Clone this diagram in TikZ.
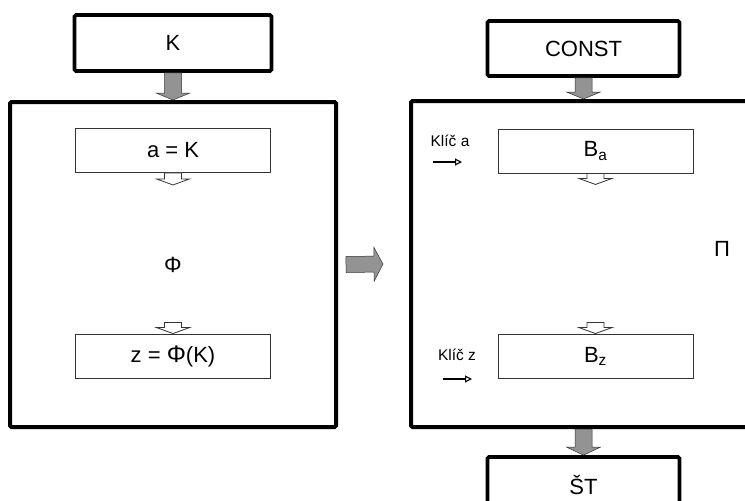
\documentclass[tikz,border=0pt]{standalone}
\usepackage{fontspec}
\setmainfont{Liberation Sans}
\usetikzlibrary{arrows.meta,positioning,calc}

% block arrow: style, from, to, half shaft, half head, head length
\newcommand{\fatarrow}[6]{%
  \coordinate (fa-h) at ($#3!#6!#2$);
  \draw[#1] ($#2!#4!90:#3$) -- ($(fa-h)!#4!90:#3$) -- ($(fa-h)!#5!90:#3$) -- #3
    -- ($(fa-h)!#5!-90:#3$) -- ($(fa-h)!#4!-90:#3$) -- ($#2!#4!-90:#3$) -- cycle;}

\begin{document}
\begin{tikzpicture}[x=1pt, y=-1pt, on grid,
  font=\fontsize{22}{26}\selectfont,
  bigbox/.style={draw, line width=4pt, rounded corners=1.5pt, inner sep=0pt},
  thickbox/.style={draw, line width=3.8pt, rounded corners=1.5pt, inner sep=0pt,
    minimum width=197pt, minimum height=56pt},
  thinbox/.style={draw=black!80, line width=0.9pt, inner sep=0pt,
    minimum width=195pt, minimum height=44pt},
  grayarrow/.style={fill=gray!85, draw=gray!40!black, line width=0.5pt},
  openarrow/.style={fill=white, draw=black!80, line width=0.8pt},
  keyarrow/.style={-{Triangle[open,length=7pt,width=7pt]}, line width=1.1pt},
  keylabel/.style={font=\fontsize{15.5}{18}\selectfont}]

  \clip (0,0) rectangle (745,501);

  % left part
  \node[bigbox, minimum width=326pt, minimum height=325pt] (phibox) at (173,264.5) {};
  \node[thickbox, above=221.5pt of phibox] (K) {K};
  \node[thinbox, above=114pt of phibox] (ak) {a = K};
  \node[thinbox, below=91.5pt of phibox] (zk) {z = {\fontsize{24}{26}\selectfont Φ}(K)};
  \node (phi) at (phibox) {Φ};

  % right part
  \node[bigbox, minimum width=349pt, minimum height=326pt] (pibox) at (585.5,264) {};
  \node[thickbox, minimum width=192pt, minimum height=55pt] (const) at (583.5,48.5) {CONST};
  \node[thinbox] (ba) at (595.5,151) {B\textsubscript{a}};
  \node[thinbox, below=205pt of ba] (bz) {B\textsubscript{z}};
  \node[thickbox, minimum width=192pt, minimum height=55pt, below=436pt of const] (st) {ŠT};
  \node (pi) at (722,249) {Π};

  \node[keylabel] (ka) at (450,141) {Klíč a};
  \node[keylabel] (kz) at (457,355) {Klíč z};

  \coordinate (ka-s) at (433,162);
  \coordinate (ka-e) at (462,162);
  \coordinate (kz-s) at (443,379);
  \coordinate (kz-e) at (472,379);
  \draw[keyarrow] (ka-s) -- (ka-e);
  \draw[keyarrow] (kz-s) -- (kz-e);

  % block arrows
  \coordinate (mid-s) at ($(phibox.east)+(8pt,0)$);
  \coordinate (mid-e) at ($(pibox.west)+(-26pt,0)$);
  \coordinate (st-in) at (pibox.south -| st.north);
  \fatarrow{grayarrow}{(K.south)}{(phibox.north)}{8.5pt}{17pt}{7pt}
  \fatarrow{grayarrow}{(const.south)}{(pibox.north -| const.south)}{8.5pt}{17pt}{7pt}
  \fatarrow{grayarrow}{(st-in)}{(st.north)}{8.5pt}{17pt}{8pt}
  \fatarrow{grayarrow}{(mid-s)}{(mid-e)}{8pt}{17pt}{9pt}

  \coordinate (ak-o) at ($(ak.south)+(0,-12pt)$);
  \coordinate (zk-i) at ($(zk.north)+(0,11pt)$);
  \coordinate (ba-o) at ($(ba.south)+(0,-11pt)$);
  \coordinate (bz-i) at ($(bz.north)+(0,11pt)$);
  \fatarrow{openarrow}{(ak.south)}{(ak-o)}{8.5pt}{16.5pt}{6pt}
  \fatarrow{openarrow}{(zk-i)}{(zk.north)}{8.5pt}{16.5pt}{6pt}
  \fatarrow{openarrow}{(ba.south)}{(ba-o)}{8.5pt}{16.5pt}{6pt}
  \fatarrow{openarrow}{(bz-i)}{(bz.north)}{8.5pt}{16.5pt}{6pt}
\end{tikzpicture}
\end{document}
